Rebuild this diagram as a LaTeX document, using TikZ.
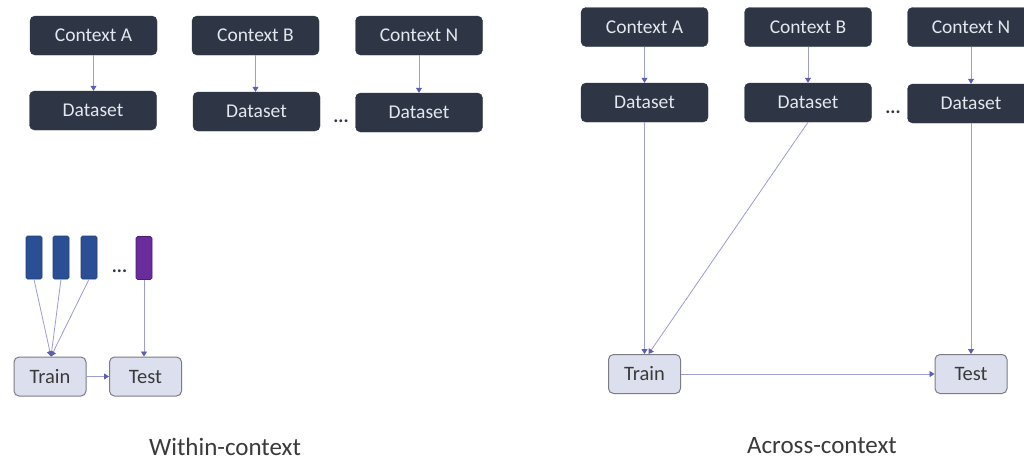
\documentclass[tikz,border=0pt]{standalone}
\usepackage{fontspec}
\setmainfont{Carlito}
\usetikzlibrary{arrows.meta}
\definecolor{darkbox}{HTML}{2E3646}
\definecolor{boxtext}{HTML}{E4E7EE}
\definecolor{lightbox}{HTML}{DCE0EE}
\definecolor{lightborder}{HTML}{7C7C84}
\definecolor{linecol}{HTML}{9C9CD6}
\definecolor{tipcol}{HTML}{5A5EB4}
\definecolor{barblue}{HTML}{2B4F95}
\definecolor{barpurple}{HTML}{6A2C9C}
\definecolor{labelcol}{HTML}{3A3A3A}
\tikzset{
  dbox/.style={draw=darkbox, fill=darkbox, rounded corners=5pt, text=boxtext,
    minimum width=127pt, minimum height=39pt, inner sep=0pt, font=\fontsize{19.5}{21}\selectfont},
  lbox/.style={draw=lightborder, line width=1pt, fill=lightbox, rounded corners=5pt, text=labelcol,
    minimum width=72pt, minimum height=39pt, inner sep=0pt, font=\fontsize{20.5}{22}\selectfont},
  bar/.style={rounded corners=1.5pt, minimum width=16pt, minimum height=43pt, inner sep=0pt, line width=0.6pt},
  conn/.style={draw=linecol, line width=0.8pt, -{Triangle[length=5pt,width=6pt,color=tipcol]}},
  dots/.style={font=\bfseries\fontsize{19}{19}\selectfont, text=darkbox, inner sep=0pt},
  captext/.style={font=\fontsize{25}{27}\selectfont, text=labelcol, inner sep=0pt}
}
\begin{document}
\begin{tikzpicture}[x=1pt,y=-1pt]
\useasboundingbox (0,0) rectangle (1024,461);
\clip (0,0) rectangle (1024,461);
\fill[white] (0,0) rectangle (1024,461);
% Left group
\node[dbox] (ca) at (93.5,35.5) {Context A};
\node[dbox] (da) at (93,110.5) {Dataset};
\node[dbox] (cb) at (255.5,35.5) {Context B};
\node[dbox] (db) at (256.5,111.5) {Dataset};
\node[dbox] (cn) at (419,35.5) {Context N};
\node[dbox] (dn) at (419,112.5) {Dataset};
\node[dots] (ld1) at (341,121) {...};
\draw[conn] (ca) -- (ca |- da.north);
\draw[conn] (cb) -- (cb |- db.north);
\draw[conn] (cn) -- (cn |- dn.north);
% bars
\node[bar, draw=barblue!80!black, fill=barblue] (b1) at (34,257.5) {};
\node[bar, draw=barblue!80!black, fill=barblue] (b2) at (61,257.5) {};
\node[bar, draw=barblue!80!black, fill=barblue] (b3) at (89,257.5) {};
\node[bar, draw=barpurple!70!black, fill=barpurple] (b4) at (144,258) {};
\node[dots] (ld2) at (119.5,271) {...};
\node[lbox] (tr) at (50,376.5) {Train};
\node[lbox] (te) at (145.5,376.5) {Test};
\coordinate (trin) at ([xshift=1pt]tr.north);
\draw[conn] (b1.south) -- (trin);
\draw[conn] (b2.south) -- (trin);
\draw[conn] (b3.south) -- (trin);
\draw[conn] (b4.south) -- (b4.south |- te.north);
\draw[conn] (tr) -- (te);
\node[captext] (lw) at (225,447) {Within-context};
% Right group
\node[dbox] (rca) at (644.5,27) {Context A};
\node[dbox] (rda) at (644.5,102.5) {Dataset};
\node[dbox] (rcb) at (808,27) {Context B};
\node[dbox] (rdb) at (808,102.5) {Dataset};
\node[dbox] (rcn) at (971,27) {Context N};
\node[dbox] (rdn) at (971,103.5) {Dataset};
\node[dots] (rd1) at (893,112) {...};
\draw[conn] (rca) -- (rca |- rda.north);
\draw[conn] (rcb) -- (rcb |- rdb.north);
\draw[conn] (rcn) -- (rcn |- rdn.north);
\node[lbox] (rtr) at (644.5,374) {Train};
\node[lbox] (rte) at (971,374) {Test};
\draw[conn] (rda.south) -- (rtr.north);
\draw[conn] (rdb.south) -- ([xshift=4pt]rtr.north);
\draw[conn] (rdn.south) -- (rte.north);
\draw[conn] (rtr) -- (rte);
\node[captext] (rw) at (822,446) {Across-context};
\end{tikzpicture}
\end{document}
